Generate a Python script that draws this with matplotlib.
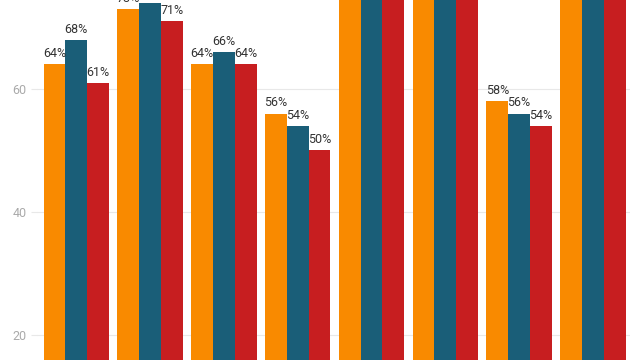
import matplotlib.pyplot as plt
import numpy as np

# values (groups 5, 6 and 8 run off the top, estimated)
groups = ['A', 'B', 'C', 'D', 'E', 'F', 'G', 'H']
series_a = [64, 73, 64, 56, 82, 84, 58, 86]
series_b = [68, 74, 66, 54, 80, 82, 56, 83]
series_c = [61, 71, 64, 50, 79, 81, 54, 81]

colors = ['#F98A00', '#1A5E78', '#C71E20']

plt.rcParams['font.family'] = ['Roboto', 'DejaVu Sans']

fig = plt.figure(figsize=(6.4, 3.6), dpi=100)
ax = fig.add_axes([0.058, 0.0, 0.926, 1.0])

x = np.arange(len(groups))
w = 0.295
for i, (vals, c) in enumerate(zip([series_a, series_b, series_c], colors)):
    bars = ax.bar(x + (i - 1) * w, vals, width=w, color=c, zorder=2)
    for b, v in zip(bars, vals):
        ax.annotate(f'{v}%', (b.get_x() + b.get_width() / 2, v),
                    xytext=(0, 3), textcoords='offset points',
                    ha='center', va='bottom', fontsize=9, color='#333333',
                    annotation_clip=False)

ax.set_xlim(-0.53, 7.5)
ax.set_ylim(15.93, 74.47)
ax.set_yticks([20, 40, 60])
ax.grid(axis='y', color='#E8E8E8', linewidth=0.8, zorder=0)
ax.tick_params(axis='y', colors='#E8E8E8', labelcolor='#AAAAAA', labelsize=9, length=4)
ax.tick_params(axis='x', bottom=False, labelbottom=False)
for s in ax.spines.values():
    s.set_visible(False)

fig.savefig('out.png', dpi=100)
